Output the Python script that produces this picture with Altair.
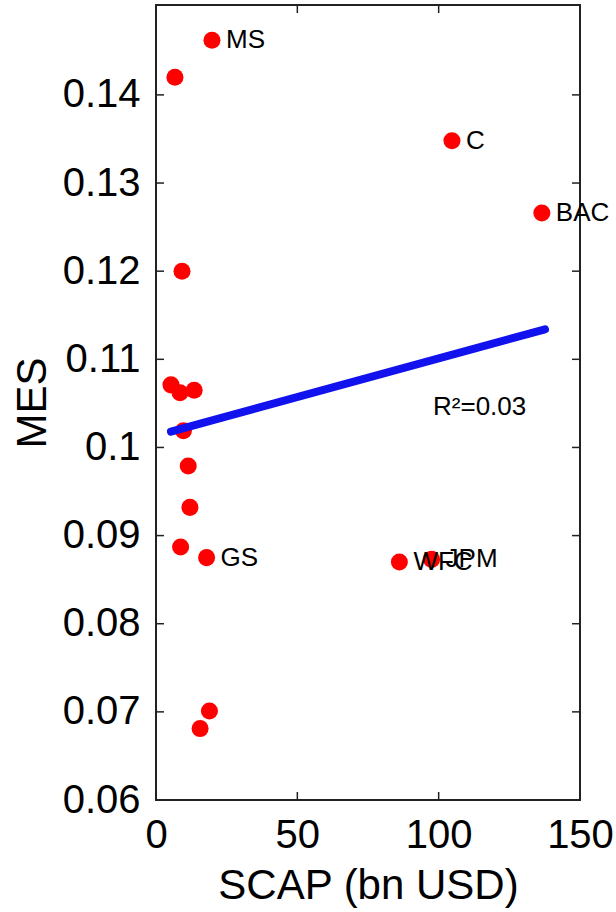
import altair as alt
import pandas as pd

# Data
scap = [19.8, 6.7, 104.7, 136.5, 9.2, 5.3, 8.5, 13.5, 9.7, 11.4, 12.0, 8.7, 17.9, 86.1, 97.5, 18.9, 15.6]
mes = [0.1462, 0.1420, 0.1348, 0.1266, 0.1200, 0.1071, 0.1062, 0.1065, 0.1019,
       0.0979, 0.0932, 0.0887, 0.0875, 0.0870, 0.0873, 0.0701, 0.0681]
names = ["MS", "", "C", "BAC", "", "", "", "", "", "", "", "", "GS", "WFC", "JPM", "", ""]
fit_x = [5.3, 137.6]
fit_y = [0.1018, 0.1134]
r2_x = [98.0]
r2_y = [0.1046]
r2_text = ["R²=0.03"]
x_ticks = [0, 50, 100, 150]
y_ticks = [0.06, 0.07, 0.08, 0.09, 0.10, 0.11, 0.12, 0.13, 0.14]

W, H = 424, 795
FONT = "Liberation Sans"

df = pd.DataFrame({"scap": scap, "mes": mes, "name": names})
df_lab = df[df["name"] != ""]
df_fit = pd.DataFrame({"scap": fit_x, "mes": fit_y})
df_r2 = pd.DataFrame({"scap": r2_x, "mes": r2_y, "t": r2_text})
df_xt = pd.DataFrame({"v": x_ticks})
df_yt = pd.DataFrame({"v": y_ticks})

xs = alt.Scale(domain=[0, 150], nice=False, zero=False)
ys = alt.Scale(domain=[0.06, 0.1502], nice=False, zero=False)

xaxis = alt.Axis(values=x_ticks, title="SCAP (bn USD)", tickSize=0, domain=False, grid=False,
                 labelFontSize=40, labelFont=FONT, labelColor="black", labelPadding=15,
                 labelFlush=False, labelOverlap=False,
                 titleFontSize=42, titleFont=FONT, titleFontWeight="normal", titleColor="black",
                 titleX=W / 2, titleY=85, titleBaseline="middle", titleAlign="center")
yaxis = alt.Axis(values=y_ticks, format=".2~f", title="MES", tickSize=0, domain=False, grid=False,
                 labelFontSize=40, labelFont=FONT, labelColor="black", labelPadding=16,
                 labelFlush=False, labelOverlap=False, labelBaseline="middle",
                 titleFontSize=42, titleFont=FONT, titleFontWeight="normal", titleColor="black",
                 titleX=-124, titleY=H / 2, titleBaseline="middle", titleAlign="center", titleAngle=-90)


def X(field):
    return alt.X(field, type="quantitative", scale=xs, axis=xaxis)


def Y(field):
    return alt.Y(field, type="quantitative", scale=ys, axis=yaxis)


tick_style = dict(color="#222222", strokeWidth=1.5)
t_left = alt.Chart(df_yt).mark_rule(**tick_style).encode(y=Y("v"), x=alt.value(0), x2=alt.value(8))
t_right = alt.Chart(df_yt).mark_rule(**tick_style).encode(y=Y("v"), x=alt.value(W - 8), x2=alt.value(W))
t_top = alt.Chart(df_xt).mark_rule(**tick_style).encode(x=X("v"), y=alt.value(0), y2=alt.value(8))
t_bot = alt.Chart(df_xt).mark_rule(**tick_style).encode(x=X("v"), y=alt.value(H - 8), y2=alt.value(H))

points = alt.Chart(df).mark_circle(size=290, color="#ff0000", opacity=1).encode(x=X("scap"), y=Y("mes"))
fit = alt.Chart(df_fit).mark_line(color="#1212ee", strokeWidth=8, strokeCap="round").encode(x=X("scap"), y=Y("mes"))
labels = alt.Chart(df_lab).mark_text(align="left", baseline="middle", dx=14, fontSize=26, font=FONT,
                                     color="black").encode(x=X("scap"), y=Y("mes"), text="name:N")
r2 = alt.Chart(df_r2).mark_text(align="left", baseline="middle", fontSize=26, font=FONT,
                                color="black").encode(x=X("scap"), y=Y("mes"), text="t:N")

chart = alt.layer(t_left, t_right, t_top, t_bot, points, fit, labels, r2).properties(
    width=W, height=H,
    autosize=alt.AutoSizeParams(type="none"),
    padding={"left": 156, "top": 5, "right": 36, "bottom": 112},
    background="white",
).configure_view(stroke="#222222", strokeWidth=2)

chart.save("out.html", embed_options={"renderer": "svg", "actions": False})
